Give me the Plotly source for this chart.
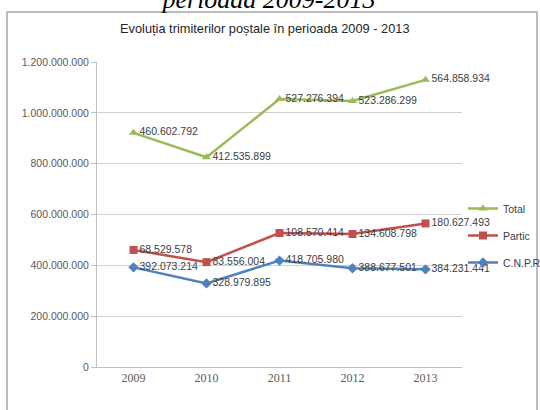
import numpy as np
import plotly.graph_objects as go

years = ["2009", "2010", "2011", "2012", "2013"]
cnpr = [392073214, 328979895, 418705980, 388677501, 384231441]
partic = [68529578, 83556004, 108570414, 134608798, 180627493]
total = [460602792, 412535899, 527276394, 523286299, 564858934]
series_names = ["C.N.P.R", "Partic", "Total"]
y_ticks = [0, 200000000, 400000000, 600000000, 800000000, 1000000000, 1200000000]

colors = ["#4F81BD", "#C0504D", "#9BBB59"]
symbols = ["diamond", "square", "triangle-up"]
ranks = [3, 2, 1]

L, R, T, B = 97, 78, 62, 43
W, H = 540, 410
pw, ph = W - L - R, H - T - B

def px(x):
    return (x - L) / pw

def py(y):
    return (H - B - y) / ph

fig = go.Figure()
stack = np.zeros(len(years))
for i, (name, vals) in enumerate(zip(series_names, [cnpr, partic, total])):
    stack = stack + np.array(vals, dtype=float)
    fig.add_trace(go.Scatter(
        x=years, y=stack.copy(), name=name, customdata=vals,
        mode="lines+markers+text",
        texttemplate="%{customdata:,d}", textposition="middle right",
        textfont=dict(family="Liberation Sans", size=10.5, color="#404040"),
        line=dict(color=colors[i], width=2.5),
        marker=dict(symbol=symbols[i], size=8, color=colors[i]),
        legendgroup=name, legendrank=ranks[i], cliponaxis=False,
    ))

fig.update_layout(
    width=W, height=H, margin=dict(l=L, r=R, t=T, b=B, autoexpand=False),
    paper_bgcolor="white", plot_bgcolor="white",
    separators=",.",
    font=dict(family="Liberation Sans", size=10, color="#595959"),
    title=dict(text="<i>perioada 2009-2013</i>", xref="container", yref="container",
               x=269 / W, y=1.0, xanchor="center", yanchor="bottom",
               pad=dict(b=-8),
               font=dict(family="Liberation Serif", size=26, color="#000000")),
    showlegend=True,
    legend=dict(x=px(463), y=py(194), xanchor="left", yanchor="top",
                tracegroupgap=8, itemwidth=30,
                font=dict(size=10.5, color="#404040"), bgcolor="rgba(0,0,0,0)"),
    xaxis=dict(type="category", range=[-0.5, 4.5], showgrid=False, automargin=False,
               showline=True, linecolor="#bfbfbf", linewidth=1, ticks="",
               tickfont=dict(family="Liberation Serif", size=12, color="#595959")),
    yaxis=dict(range=[0, 1.2e9], tickvals=y_ticks, tickformat=",d", automargin=False,
               showgrid=True, gridcolor="#d0d0d0", gridwidth=1,
               showline=True, linecolor="#bfbfbf", ticks="outside", ticklen=5,
               tickcolor="#bfbfbf", zeroline=False,
               tickfont=dict(family="Liberation Sans", size=10.5, color="#595959")),
    annotations=[
        dict(text="Evoluția trimiterilor poștale în perioada 2009 - 2013",
             xref="paper", yref="paper", x=px(265), y=py(28),
             xanchor="center", yanchor="middle", showarrow=False,
             font=dict(family="Liberation Sans", size=12.8, color="#262626")),
    ],
    shapes=[
        dict(type="rect", xref="paper", yref="paper",
             x0=px(7), x1=px(537), y0=py(430), y1=py(12),
             line=dict(color="#a6a6a6", width=1.5), fillcolor="rgba(0,0,0,0)",
             layer="below"),
    ],
)

fig.write_html("out.html", config={"displayModeBar": False},
               post_script="document.body.style.margin='0px';")
